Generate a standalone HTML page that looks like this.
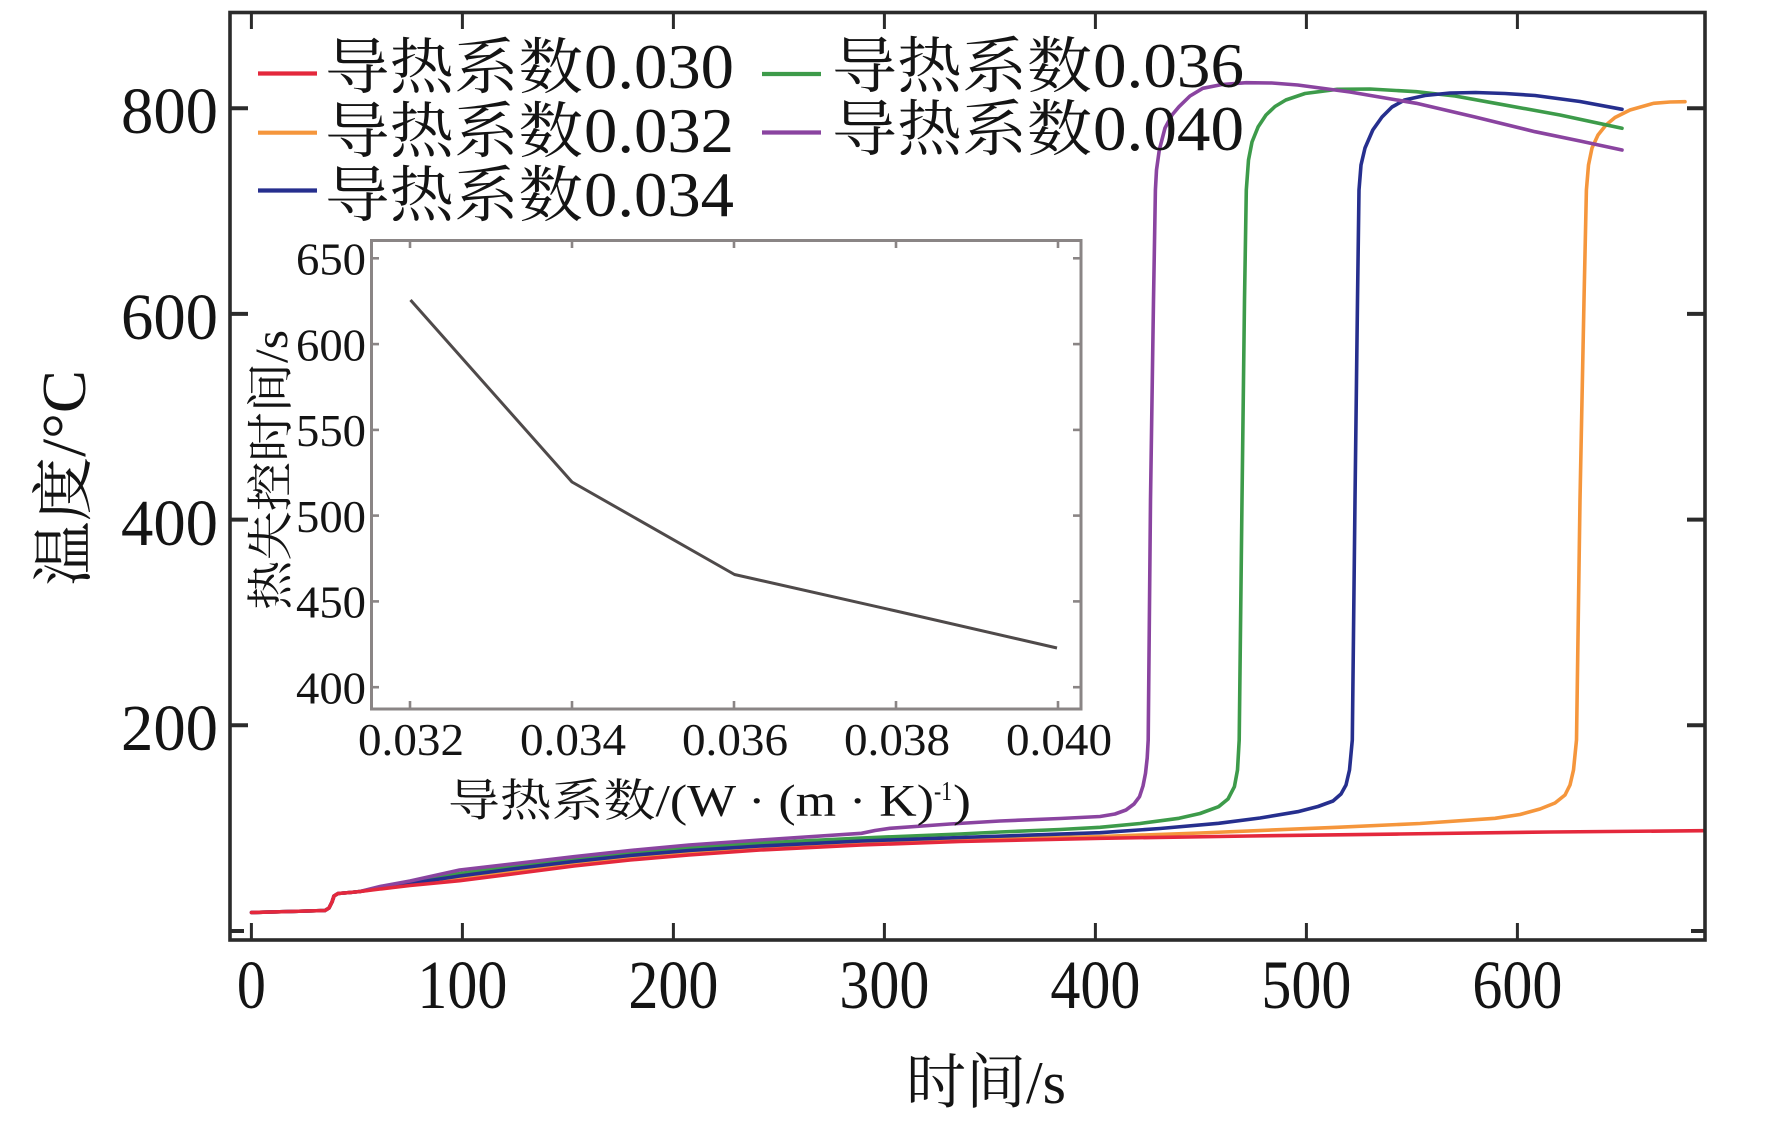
<!DOCTYPE html>
<html>
<head>
<meta charset="utf-8">
<style>
  html, body { margin:0; padding:0; background:#ffffff; }
  svg { display:block; }
  .num { font-family:"Liberation Serif",serif; fill:#141414; }
  .cjk { font-family:"Liberation Serif","Noto Serif CJK SC","Noto Sans CJK SC",serif; fill:#141414; }
  .han { font-family:"Noto Serif CJK SC","Noto Sans CJK SC",serif; fill:#141414; }
</style>
</head>
<body>
<svg width="1772" height="1125" viewBox="0 0 1772 1125" xmlns="http://www.w3.org/2000/svg">
  <rect x="0" y="0" width="1772" height="1125" fill="#ffffff"/>

  <!-- ===== Main plot curves ===== -->
  <g fill="none" stroke-width="3.6" stroke-linejoin="round" stroke-linecap="round">
    <polyline stroke="#f5963c" points="251.5,912.5 290,911.5 325,910.5 329,908 332,902 334,896 338,893.5 350,892.5 360,891.5 380,888.5 410,884.5 459.6,878.5 520,871 574,864 630,858 689,853 760,848 861.5,843 960,840 1100,836.5 1200,833 1337,827.3 1420,823.5 1495,818.3 1520,814.5 1540,809 1555,803 1565,795 1570,785 1573.5,770 1576.5,740 1580,500 1584,300 1586.4,190 1588.5,165 1592,148 1598,135 1606,125 1615,117.5 1630,110 1653.6,103.3 1670,102 1685,101.7"/>
    <polyline stroke="#3d9b4a" points="251.5,912.5 290,911.5 325,910.5 329,908 332,902 334,896 338,893.5 350,892.5 360,891.5 380,887.5 410,882.5 459.6,873.5 520,865.5 574,859 630,853 689,848 760,843 861.5,838 960,834 1000,832 1060,829.5 1100,827.3 1140,823.5 1179,818.3 1200,813.5 1218.6,806.7 1228,799 1234.4,786.7 1237.5,770 1239.2,740 1242,500 1244.5,300 1246.3,190 1248.5,160 1252,142 1258.2,126.7 1266,115 1275,106.5 1285.8,100 1305,93.5 1337.2,89.3 1370,89 1416.3,91.7 1455,96 1495.4,103.3 1560,115 1622,128.3"/>
    <polyline stroke="#262f8e" points="251.5,912.5 290,911.5 325,910.5 329,908 332,902 334,896 338,893.5 350,892.5 360,891.5 380,888 410,883.5 459.6,876 520,868 574,861.5 630,855.5 689,850.5 760,846 861.5,841 960,837.5 1100,832.7 1160,828.5 1218.6,823.3 1260,818 1297.7,811.7 1318,806.5 1333,801 1341,794 1346,785 1349.5,770 1352.3,740 1355,500 1357.5,300 1359,190 1361,165 1365,148 1372.8,130 1382,117 1392,107 1404.5,100 1425,95.5 1450,93 1475.6,92.5 1505,93.5 1535,95.5 1580,101.5 1622,109.3"/>
    <polyline stroke="#8a44a0" points="251.5,912.5 290,911.5 325,910.5 329,908 332,902 334,896 338,893.5 350,892.5 360,891.5 380,886.5 410,881 459.6,870 520,863 574,856.7 630,850.5 689,845 760,840 861.5,833.3 875,830.5 890,828.3 950,824 1000,821 1060,818.5 1100,816.5 1115,814 1126,810 1134,804 1139.5,796.7 1143,786 1145.5,773.3 1147.2,758 1148.2,740 1150.5,500 1153.5,300 1155.4,190 1156.5,170 1159.3,150 1165,128 1172,115 1179,106.7 1190,96 1202.8,88.3 1222,84.5 1246.3,82.7 1272,83 1297.7,85 1350,92 1416.3,103.3 1475,117 1535,131.7 1580,141 1622,150"/>
    <polyline stroke="#e4283c" points="251.5,912.5 290,911.5 325,910.5 329,908 332,902 334,896 338,893.5 350,892.5 360,891.5 380,889 410,885.5 459.6,880.7 520,873 574,866 630,860 689,855 760,850 861.5,845 960,841.5 1100,838.3 1250,836 1400,834 1550,832 1703,830.7"/>
  </g>

  <!-- ===== Main axes frame ===== -->
  <rect x="230" y="12.5" width="1475" height="927.5" fill="none" stroke="#2b2b2b" stroke-width="3.6"/>
  <g stroke="#2b2b2b" stroke-width="3">
    <line x1="251.4" y1="940" x2="251.4" y2="923"/>
    <line x1="462.4" y1="940" x2="462.4" y2="923"/>
    <line x1="673.4" y1="940" x2="673.4" y2="923"/>
    <line x1="884.4" y1="940" x2="884.4" y2="923"/>
    <line x1="1095.4" y1="940" x2="1095.4" y2="923"/>
    <line x1="1306.4" y1="940" x2="1306.4" y2="923"/>
    <line x1="1517.4" y1="940" x2="1517.4" y2="923"/>
    <line x1="251.4" y1="12.5" x2="251.4" y2="29"/>
    <line x1="462.4" y1="12.5" x2="462.4" y2="29"/>
    <line x1="673.4" y1="12.5" x2="673.4" y2="29"/>
    <line x1="884.4" y1="12.5" x2="884.4" y2="29"/>
    <line x1="1095.4" y1="12.5" x2="1095.4" y2="29"/>
    <line x1="1306.4" y1="12.5" x2="1306.4" y2="29"/>
    <line x1="1517.4" y1="12.5" x2="1517.4" y2="29"/>
  </g>
  <g stroke="#2b2b2b" stroke-width="4">
    <line x1="230" y1="931" x2="244" y2="931"/>
    <line x1="230" y1="725.3" x2="248" y2="725.3"/>
    <line x1="230" y1="519.6" x2="248" y2="519.6"/>
    <line x1="230" y1="313.9" x2="248" y2="313.9"/>
    <line x1="230" y1="108.2" x2="248" y2="108.2"/>
    <line x1="1705" y1="931" x2="1691" y2="931"/>
    <line x1="1705" y1="725.3" x2="1687" y2="725.3"/>
    <line x1="1705" y1="519.6" x2="1687" y2="519.6"/>
    <line x1="1705" y1="313.9" x2="1687" y2="313.9"/>
    <line x1="1705" y1="108.2" x2="1687" y2="108.2"/>
  </g>

  <!-- Main y tick labels -->
  <g class="num" font-size="66" text-anchor="end">
    <text x="218" y="133" textLength="97" lengthAdjust="spacingAndGlyphs">800</text>
    <text x="218" y="339" textLength="97" lengthAdjust="spacingAndGlyphs">600</text>
    <text x="218" y="545" textLength="97" lengthAdjust="spacingAndGlyphs">400</text>
    <text x="218" y="750" textLength="97" lengthAdjust="spacingAndGlyphs">200</text>
  </g>
  <!-- Main x tick labels -->
  <g class="num" font-size="69" text-anchor="middle">
    <text x="251.4" y="1008" textLength="29" lengthAdjust="spacingAndGlyphs">0</text>
    <text x="462.4" y="1008" textLength="90" lengthAdjust="spacingAndGlyphs">100</text>
    <text x="673.4" y="1008" textLength="90" lengthAdjust="spacingAndGlyphs">200</text>
    <text x="884.4" y="1008" textLength="90" lengthAdjust="spacingAndGlyphs">300</text>
    <text x="1095.4" y="1008" textLength="90" lengthAdjust="spacingAndGlyphs">400</text>
    <text x="1306.4" y="1008" textLength="90" lengthAdjust="spacingAndGlyphs">500</text>
    <text x="1517.4" y="1008" textLength="90" lengthAdjust="spacingAndGlyphs">600</text>
  </g>

  <!-- Axis titles -->
  <text class="cjk" x="986" y="1103" font-size="60" text-anchor="middle" textLength="160" lengthAdjust="spacingAndGlyphs">时间/s</text>
  <text class="cjk" transform="translate(85,478) rotate(-90)" font-size="62" text-anchor="middle" textLength="216" lengthAdjust="spacingAndGlyphs">温度/°C</text>

  <!-- ===== Legend ===== -->
  <g stroke-width="4.2" stroke-linecap="butt">
    <line x1="258" y1="73.5" x2="317" y2="73.5" stroke="#e4283c"/>
    <line x1="258" y1="132.7" x2="317" y2="132.7" stroke="#f5963c"/>
    <line x1="258" y1="190.5" x2="317" y2="190.5" stroke="#262f8e"/>
    <line x1="762" y1="74" x2="821" y2="74" stroke="#3d9b4a"/>
    <line x1="762" y1="132.5" x2="821" y2="132.5" stroke="#8a44a0"/>
  </g>
  <g class="han" font-size="61">
    <text x="325" y="88" textLength="258" lengthAdjust="spacingAndGlyphs">导热系数</text>
    <text x="325" y="152" textLength="258" lengthAdjust="spacingAndGlyphs">导热系数</text>
    <text x="325" y="216" textLength="258" lengthAdjust="spacingAndGlyphs">导热系数</text>
    <text x="832" y="87" textLength="260" lengthAdjust="spacingAndGlyphs">导热系数</text>
    <text x="832" y="150" textLength="260" lengthAdjust="spacingAndGlyphs">导热系数</text>
  </g>
  <g class="num" font-size="63">
    <text x="584" y="88" textLength="150" lengthAdjust="spacingAndGlyphs">0.030</text>
    <text x="584" y="152" textLength="150" lengthAdjust="spacingAndGlyphs">0.032</text>
    <text x="584" y="216" textLength="150" lengthAdjust="spacingAndGlyphs">0.034</text>
    <text x="1093" y="87" textLength="151" lengthAdjust="spacingAndGlyphs">0.036</text>
    <text x="1093" y="150" textLength="151" lengthAdjust="spacingAndGlyphs">0.040</text>
  </g>

  <!-- ===== Inset ===== -->
  <rect x="371.5" y="240.5" width="709.5" height="468.5" fill="none" stroke="#8a8585" stroke-width="3"/>
  <g stroke="#8a8585" stroke-width="2.6">
    <line x1="410" y1="709" x2="410" y2="701"/>
    <line x1="572" y1="709" x2="572" y2="701"/>
    <line x1="734" y1="709" x2="734" y2="701"/>
    <line x1="896" y1="709" x2="896" y2="701"/>
    <line x1="1058" y1="709" x2="1058" y2="701"/>
    <line x1="410" y1="240.5" x2="410" y2="248"/>
    <line x1="572" y1="240.5" x2="572" y2="248"/>
    <line x1="734" y1="240.5" x2="734" y2="248"/>
    <line x1="896" y1="240.5" x2="896" y2="248"/>
    <line x1="1058" y1="240.5" x2="1058" y2="248"/>
    <line x1="371.5" y1="258.3" x2="379" y2="258.3"/>
    <line x1="371.5" y1="344.1" x2="379" y2="344.1"/>
    <line x1="371.5" y1="429.9" x2="379" y2="429.9"/>
    <line x1="371.5" y1="515.6" x2="379" y2="515.6"/>
    <line x1="371.5" y1="601.4" x2="379" y2="601.4"/>
    <line x1="371.5" y1="687.2" x2="379" y2="687.2"/>
    <line x1="1081" y1="258.3" x2="1073" y2="258.3"/>
    <line x1="1081" y1="344.1" x2="1073" y2="344.1"/>
    <line x1="1081" y1="429.9" x2="1073" y2="429.9"/>
    <line x1="1081" y1="515.6" x2="1073" y2="515.6"/>
    <line x1="1081" y1="601.4" x2="1073" y2="601.4"/>
    <line x1="1081" y1="687.2" x2="1073" y2="687.2"/>
  </g>
  <polyline fill="none" stroke="#4f4a4a" stroke-width="3" stroke-linejoin="round" points="410.5,300 572,482 734.5,574.5 896,611 1057,648"/>

  <!-- Inset y tick labels -->
  <g class="num" font-size="46" text-anchor="end">
    <text x="366" y="274.5" textLength="70" lengthAdjust="spacingAndGlyphs">650</text>
    <text x="366" y="360.3" textLength="70" lengthAdjust="spacingAndGlyphs">600</text>
    <text x="366" y="446" textLength="70" lengthAdjust="spacingAndGlyphs">550</text>
    <text x="366" y="531.8" textLength="70" lengthAdjust="spacingAndGlyphs">500</text>
    <text x="366" y="617.6" textLength="70" lengthAdjust="spacingAndGlyphs">450</text>
    <text x="366" y="703.4" textLength="70" lengthAdjust="spacingAndGlyphs">400</text>
  </g>
  <!-- Inset x tick labels -->
  <g class="num" font-size="46" text-anchor="middle">
    <text x="411" y="755" textLength="106" lengthAdjust="spacingAndGlyphs">0.032</text>
    <text x="573" y="755" textLength="106" lengthAdjust="spacingAndGlyphs">0.034</text>
    <text x="735" y="755" textLength="106" lengthAdjust="spacingAndGlyphs">0.036</text>
    <text x="897" y="755" textLength="106" lengthAdjust="spacingAndGlyphs">0.038</text>
    <text x="1059" y="755" textLength="106" lengthAdjust="spacingAndGlyphs">0.040</text>
  </g>
  <!-- Inset titles -->
  <text class="cjk" x="448" y="816" font-size="45" textLength="486" lengthAdjust="spacingAndGlyphs">导热系数/(W · (m · K)</text>
  <text class="num" x="934" y="800" font-size="27" textLength="18" lengthAdjust="spacingAndGlyphs">-1</text>
  <text class="num" x="953" y="816" font-size="45" textLength="18" lengthAdjust="spacingAndGlyphs">)</text>
  <text class="cjk" transform="translate(287,470) rotate(-90)" font-size="47" text-anchor="middle" textLength="280" lengthAdjust="spacingAndGlyphs">热失控时间/s</text>
</svg>
</body>
</html>
